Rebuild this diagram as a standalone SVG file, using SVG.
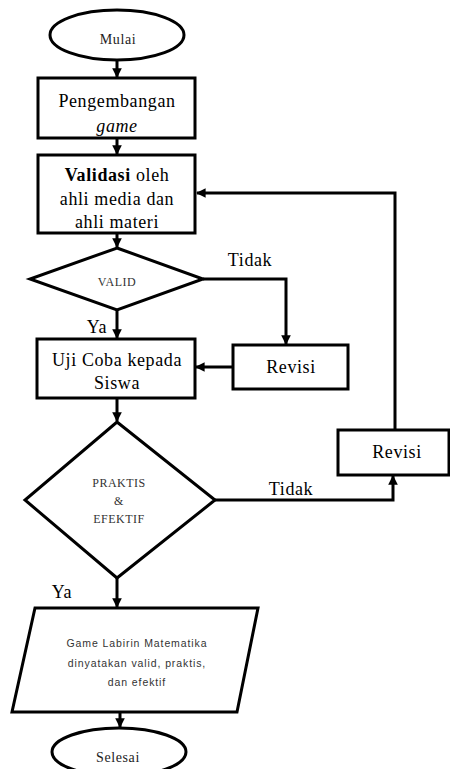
<svg xmlns="http://www.w3.org/2000/svg" width="450" height="769" viewBox="0 0 450 769">
<style>
.shape{fill:#fff;stroke:#000;stroke-width:3}
.line{fill:none;stroke:#000;stroke-width:3}
.t{font-family:"Liberation Serif",serif;fill:#000;text-anchor:middle}
.m{font-size:18px;letter-spacing:0.6px}
.s{font-size:14px;letter-spacing:0.6px;fill:#222}
.xs{font-size:12px;letter-spacing:0.5px;fill:#333}
.sans{font-family:"Liberation Sans",Arial,sans-serif;font-size:10.5px;letter-spacing:0.9px;fill:#333;text-anchor:middle}
</style>
<defs>
<marker id="ah" viewBox="0 0 10 10" refX="9" refY="5" markerWidth="3.2" markerHeight="3.2" orient="auto" markerUnits="strokeWidth">
<path d="M0,0 L10,5 L0,10 z" fill="#000"/>
</marker>
</defs>
<rect width="450" height="769" fill="#fff"/>
<g id="connectors">
<path class="line" d="M117,60 V77" marker-end="url(#ah)"/>
<path class="line" d="M117,138 V154" marker-end="url(#ah)"/>
<path class="line" d="M117,233 V247" marker-end="url(#ah)"/>
<path class="line" d="M117,310 V338" marker-end="url(#ah)"/>
<path class="line" d="M203,279 H286 V344" marker-end="url(#ah)"/>
<path class="line" d="M233,367 H196" marker-end="url(#ah)"/>
<path class="line" d="M117,398 V421" marker-end="url(#ah)"/>
<path class="line" d="M215,500 H393 V476" marker-end="url(#ah)"/>
<path class="line" d="M395,430 V193 H197" marker-end="url(#ah)"/>
<path class="line" d="M117,578 V607" marker-end="url(#ah)"/>
<path class="line" d="M120,712 V727" marker-end="url(#ah)"/>
<text class="t m" x="250" y="266">Tidak</text>
<text class="t m" x="97" y="333">Ya</text>
<text class="t m" x="291" y="495">Tidak</text>
<text class="t m" x="62" y="598">Ya</text>
</g>
<g id="mulai">
<ellipse class="shape" cx="117" cy="35" rx="67" ry="25"/>
<text class="t s" x="118" y="44">Mulai</text>
</g>
<g id="pengembangan">
<rect class="shape" x="38" y="78" width="157" height="60"/>
<text class="t m" x="117" y="107">Pengembangan</text>
<text class="t m" x="117" y="132" font-style="italic">game</text>
</g>
<g id="validasi">
<rect class="shape" x="38" y="155" width="157" height="78"/>
<text class="t m" x="117" y="181"><tspan font-weight="bold">Validasi</tspan> oleh</text>
<text class="t m" x="117" y="205">ahli media dan</text>
<text class="t m" x="117" y="228">ahli materi</text>
</g>
<g id="valid">
<polygon class="shape" points="117,248 203,279 117,310 30,279"/>
<text class="t xs" x="117" y="286">VALID</text>
</g>
<g id="revisi1">
<rect class="shape" x="233" y="345" width="115" height="44"/>
<text class="t m" x="291" y="373">Revisi</text>
</g>
<g id="ujicoba">
<rect class="shape" x="37" y="339" width="158" height="59"/>
<text class="t m" x="117" y="366">Uji Coba kepada</text>
<text class="t m" x="117" y="389">Siswa</text>
</g>
<g id="praktis">
<polygon class="shape" points="117,422 215,500 117,578 25,500"/>
<text class="t xs" x="119" y="487">PRAKTIS</text>
<text class="t xs" x="119" y="505">&amp;</text>
<text class="t xs" x="119" y="523">EFEKTIF</text>
</g>
<g id="revisi2">
<rect class="shape" x="338" y="430" width="111" height="45"/>
<text class="t m" x="397" y="458">Revisi</text>
</g>
<g id="hasil">
<polygon class="shape" points="35,608 258,608 237,712 12,712"/>
<text class="sans" x="137" y="647">Game Labirin Matematika</text>
<text class="sans" x="137" y="667">dinyatakan  valid, praktis,</text>
<text class="sans" x="137" y="686">dan efektif</text>
</g>
<g id="selesai">
<ellipse class="shape" cx="119" cy="752" rx="67" ry="24"/>
<text class="t s" x="118" y="762">Selesai</text>
</g>
</svg>
